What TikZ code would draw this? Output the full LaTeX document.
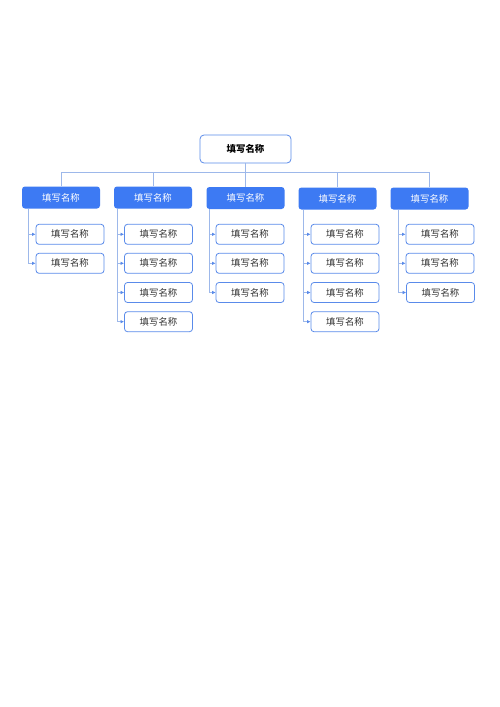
\documentclass[tikz,border=0pt]{standalone}
\usepackage{fontspec}
\newfontfamily\cjk{Noto Sans CJK SC}
\usetikzlibrary{positioning}
\usetikzlibrary{arrows.meta}

\definecolor{headblue}{HTML}{3D7AF3}
\definecolor{edgeblue}{HTML}{5A8BEA}
\definecolor{wireblue}{HTML}{9DB8EA}
\definecolor{textgray}{HTML}{333333}

\begin{document}
\begin{tikzpicture}[x=1pt,y=-1pt,font=\cjk\fontsize{9.4}{11}\selectfont]
            \useasboundingbox[fill=white] (0,0) rectangle (500,707);

            % top node
            \node[draw=edgeblue,thick,rounded corners=4pt,minimum width=91pt,minimum height=28pt,
                font=\cjk\bfseries\fontsize{9.4}{11}\selectfont] (0) at (245.5,149) {填写名称};
            \coordinate (bus) at (245.5,172);

            \begin{scope}[every node/.style={fill=headblue,text=white,rounded corners=3pt,
                minimum width=78pt,minimum height=22pt,inner sep=0pt}]
                \node (1) at (61,197.5) {填写名称};
                \node (2) at (153,197.5) {填写名称};
                \node (3) at (245.5,198) {填写名称};
                \node (4) at (337.5,198.5) {填写名称};
                \node (5) at (429.5,198.5) {填写名称};
            \end{scope}

            \begin{scope}[every node/.style={draw=edgeblue,thick,text=textgray,rounded corners=3pt,
                minimum width=68pt,minimum height=20pt,inner sep=0pt}]
                \node (11) at (70,234.3) {填写名称};
                \node (12) at (70,263.3) {填写名称};
                \node (21) at (158.5,234.3) {填写名称};
                \node (22) at (158.5,263.3) {填写名称};
                \node (23) at (158.5,292.5) {填写名称};
                \node (24) at (158.5,321.7) {填写名称};
                \node (31) at (250,234.3) {填写名称};
                \node (32) at (250,263.3) {填写名称};
                \node (33) at (250,292.5) {填写名称};
                \node (41) at (345,234.3) {填写名称};
                \node (42) at (345,263.3) {填写名称};
                \node (43) at (345,292.5) {填写名称};
                \node (44) at (345,321.7) {填写名称};
                \node (51) at (440,234.3) {填写名称};
                \node (52) at (440,263.3) {填写名称};
                \node (53) at (440.5,292.5) {填写名称};
            \end{scope}

            \begin{scope}[every path/.style={draw=wireblue,thick}]
                \draw (0) -- (bus);
                \draw (1.north) |- (bus);
                \draw (2.north) |- (bus);
                \draw (3.north) -- (bus);
                \draw (4.north) |- (bus);
                \draw (5.north) |- (bus);
            \end{scope}

            \begin{scope}[every path/.style={draw=wireblue,thick,
                -{Latex[length=3.5pt,width=3.5pt,color=edgeblue]}}]
                \draw ([xshift=7pt]1.south west) |- (11.west);
                \draw ([xshift=7pt]1.south west) |- (12.west);
                \draw ([xshift=3.5pt]2.south west) |- (21.west);
                \draw ([xshift=3.5pt]2.south west) |- (22.west);
                \draw ([xshift=3.5pt]2.south west) |- (23.west);
                \draw ([xshift=3.5pt]2.south west) |- (24.west);
                \draw ([xshift=3.5pt]3.south west) |- (31.west);
                \draw ([xshift=3.5pt]3.south west) |- (32.west);
                \draw ([xshift=3.5pt]3.south west) |- (33.west);
                \draw ([xshift=5.5pt]4.south west) |- (41.west);
                \draw ([xshift=5.5pt]4.south west) |- (42.west);
                \draw ([xshift=5.5pt]4.south west) |- (43.west);
                \draw ([xshift=5.5pt]4.south west) |- (44.west);
                \draw ([xshift=8pt]5.south west) |- (51.west);
                \draw ([xshift=8pt]5.south west) |- (52.west);
                \draw ([xshift=8pt]5.south west) |- (53.west);
            \end{scope}
        \end{tikzpicture}
\end{document}
